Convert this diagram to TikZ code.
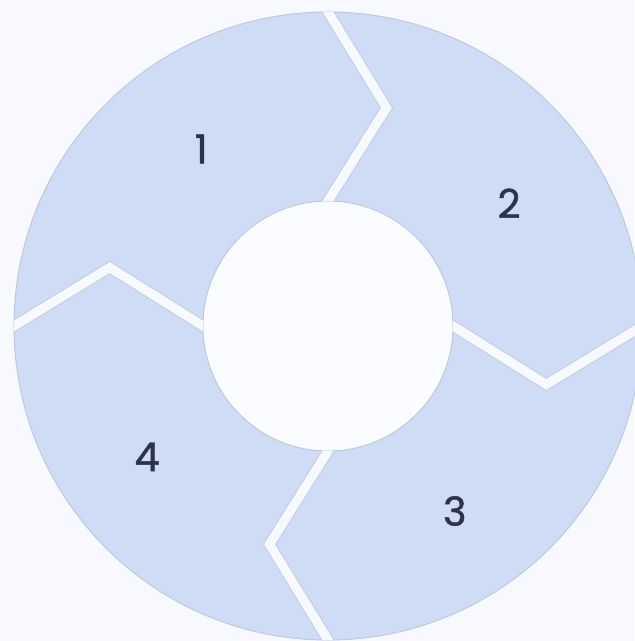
\documentclass[tikz,border=0pt]{standalone}
\usepackage{fontspec}
\setmainfont{Poppins}
\newfontfamily\numfont{Poppins}[FakeBold=1.2]
\usepackage{xcolor}
\usepackage{tikz}
\usetikzlibrary{calc}

\definecolor{bgcol}{HTML}{F8F9FE}
\definecolor{holecol}{HTML}{FBFCFF}
\definecolor{segfill}{HTML}{CFDCF6}
\definecolor{segline}{HTML}{BCC8E2}
\definecolor{numcol}{HTML}{2E3448}

\begin{document}
\begin{tikzpicture}[
  x=0.03cm, y=0.03cm,
  seg/.style={fill=segfill, draw=segline, line width=0.8pt, line join=miter},
  cutedge/.style={draw=segline, line width=9.4pt, line join=miter},
  cutgap/.style={draw=bgcol, line width=8pt, line join=miter},
  num/.style={font=\numfont\fontsize{34}{40}\selectfont, text=numcol, yshift=-0.12cm},
]
  \def\R{314}
  \def\r{125}
  \def\m{226}
  \fill[bgcol] (-328,-315) rectangle (306,326);
  \useasboundingbox (-328,-315) rectangle (306,326);
  \fill[holecol] (0,0) circle (\r);

  % ring segments, leading cut at angle \a
  \foreach \a in {90,0,-90,-180} {
    \path[seg] ({\a+90}:\R) arc[start angle=\a+90, end angle=\a, radius=\R]
      -- ({\a-15}:\m) -- (\a:\r) arc[start angle=\a, end angle=\a+90, radius=\r]
      -- ({\a+75}:\m) -- cycle;
  }

  % gaps between segments
  \begin{scope}[even odd rule]
    \clip (0,0) circle (\R+0.4) (0,0) circle (\r-0.4);
    \foreach \a in {90,0,-90,-180} {
      \coordinate (tip) at ({\a-15}:\m);
      \draw[cutedge] ($(tip)!1.3!(\a:\r)$) -- (tip) -- ($(tip)!1.3!(\a:\R)$);
      \draw[cutgap]  ($(tip)!1.3!(\a:\r)$) -- (tip) -- ($(tip)!1.3!(\a:\R)$);
    }
  \end{scope}

  \node[num] (n1) at (125:221)  {1};
  \node[num] (n2) at (35:221)   {2};
  \node[num] (n3) at (-55:221)  {3};
  \node[num] (n4) at (-145:221) {4};
\end{tikzpicture}
\end{document}
